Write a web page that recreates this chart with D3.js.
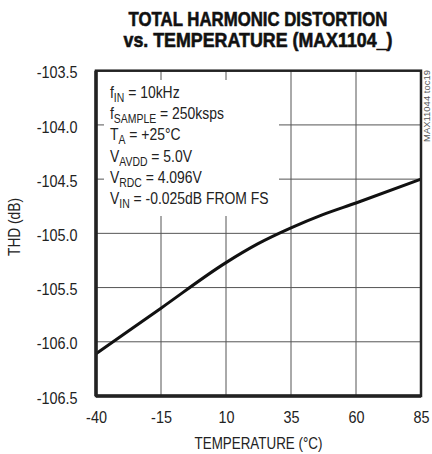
<!DOCTYPE html>
<html>
<head>
<meta charset="utf-8">
<script src="https://cdn.jsdelivr.net/npm/d3@7"></script>
<style>
  body { margin: 0; background: #fff; }
  svg { display: block; }
  text { font-family: "Liberation Sans", Arial, sans-serif; fill: #222; }
</style>
</head>
<body>
<script>
// 데이터: 온도(°C)별 THD(dB)
const temps = [-40, -15, 10, 22, 35, 47, 60, 85];
const thd = [-106.11, -105.69, -105.27, -105.1, -104.95, -104.83, -104.72, -104.5];

const xTicks = [-40, -15, 10, 35, 60, 85];
const yTicks = [-103.5, -104.0, -104.5, -105.0, -105.5, -106.0, -106.5];

const titleLines = ['TOTAL HARMONIC DISTORTION', 'vs. TEMPERATURE (MAX1104_)'];
const notes = [
    ['f', 'IN', ' = 10kHz'],
    ['f', 'SAMPLE', ' = 250ksps'],
    ['T', 'A', ' = +25°C'],
    ['V', 'AVDD', ' = 5.0V'],
    ['V', 'RDC', ' = 4.096V'],
    ['V', 'IN', ' = -0.025dB FROM FS']
];

// 좁은 글꼴 흉내: 텍스트를 가로로 축소
function squeeze(sel, base, targetWidth) {
    sel.each(function() {
        const w = this.getComputedTextLength();
        const s = targetWidth ? targetWidth / w : 1;
        d3.select(this).attr('transform', `${base} scale(${s},1)`);
    });
}

function renderChart() {
    const width = 432;
    const height = 454;
    const margin = {top: 70.7, right: 11, bottom: 58, left: 96};

    const x = d3.scaleLinear()
        .domain([-40, 85])
        .range([margin.left, width - margin.right]);

    const y = d3.scaleLinear()
        .domain([-106.5, -103.5])
        .range([height - margin.bottom, margin.top]);

    const svg = d3.select('body')
        .append('svg')
        .attr('width', width)
        .attr('height', height);

    // 제목
    const titleWidths = [259, 269];
    svg.selectAll('text.title')
        .data(titleLines)
        .enter()
        .append('text')
        .attr('class', 'title')
        .attr('text-anchor', 'middle')
        .attr('font-size', '20px')
        .attr('font-weight', 'bold')
        .style('fill', '#111')
        .style('stroke', '#111')
        .style('stroke-width', 0.6)
        .text(d => d)
        .each(function(d, i) {
            squeeze(d3.select(this), `translate(258, ${26 + i * 21})`, titleWidths[i]);
        });

    // 그리드
    const grid = svg.append('g');
    grid.selectAll('line.gx')
        .data(xTicks.slice(1, -1))
        .enter()
        .append('line')
        .attr('x1', d => x(d)).attr('x2', d => x(d))
        .attr('y1', y(-103.5)).attr('y2', y(-106.5))
        .attr('stroke', '#555')
        .attr('stroke-width', 1);

    grid.selectAll('line.gy')
        .data(yTicks.slice(1, -1))
        .enter()
        .append('line')
        .attr('x1', x(-40)).attr('x2', x(85))
        .attr('y1', d => y(d)).attr('y2', d => y(d))
        .attr('stroke', '#555')
        .attr('stroke-width', 1);

    // 주석 상자 (그리드 가림)
    svg.append('rect')
        .attr('x', 104)
        .attr('y', 80)
        .attr('width', 175)
        .attr('height', 136)
        .attr('fill', '#fff');

    const noteText = svg.append('g');
    notes.forEach((n, i) => {
        const t = noteText.append('text')
            .attr('font-size', '16px')
            .attr('transform', `translate(110, ${98 + i * 21.2}) scale(0.87,1)`);
        t.append('tspan').text(n[0]);
        t.append('tspan')
            .attr('font-size', '12px')
            .attr('dy', 4)
            .text(n[1]);
        t.append('tspan')
            .attr('dy', -4)
            .text(n[2]);
    });

    // 곡선
    const line = d3.line()
        .x(d => x(d[0]))
        .y(d => y(d[1]))
        .curve(d3.curveMonotoneX);

    svg.append('path')
        .datum(temps.map((t, i) => [t, thd[i]]))
        .attr('fill', 'none')
        .attr('stroke', '#111')
        .attr('stroke-width', 3)
        .attr('d', line);

    // 프레임
    const frame = svg.append('g').attr('stroke', '#222').attr('fill', 'none');
    frame.append('rect')
        .attr('x', x(-40))
        .attr('y', y(-103.5))
        .attr('width', x(85) - x(-40))
        .attr('height', y(-106.5) - y(-103.5))
        .attr('stroke-width', 2.5);
    frame.append('line')
        .attr('x1', x(-40)).attr('x2', x(-40))
        .attr('y1', y(-103.5)).attr('y2', y(-106.5))
        .attr('stroke-width', 3.5);
    frame.append('line')
        .attr('x1', x(-40)).attr('x2', x(85))
        .attr('y1', y(-106.5)).attr('y2', y(-106.5))
        .attr('stroke-width', 3.5);

    // 축 레이블
    const xAxis = d3.axisBottom(x).tickValues(xTicks).tickFormat(d => String(d)).tickSize(0).tickPadding(0);
    const gx = svg.append('g')
        .attr('transform', `translate(0, ${y(-106.5) + 27})`)
        .call(xAxis);
    gx.select('.domain').remove();
    gx.selectAll('text')
        .attr('font-size', '16px')
        .attr('font-family', null)
        .attr('dy', null)
        .attr('y', 0)
        .attr('transform', 'scale(0.9,1)');

    const yAxis = d3.axisLeft(y).tickValues(yTicks).tickFormat(d => d.toFixed(1)).tickSize(0).tickPadding(0);
    const gy = svg.append('g')
        .attr('transform', `translate(${x(-40) - 18.5}, 0)`)
        .call(yAxis);
    gy.select('.domain').remove();
    gy.selectAll('text')
        .attr('font-size', '16px')
        .attr('font-family', null)
        .attr('x', 0)
        .attr('dy', '0.45em')
        .attr('transform', 'scale(0.9,1)');

    // 축 제목
    svg.append('text')
        .attr('text-anchor', 'middle')
        .attr('font-size', '16px')
        .text('TEMPERATURE (°C)')
        .call(squeeze, 'translate(258.5, 449)', 128);

    svg.append('text')
        .attr('text-anchor', 'middle')
        .attr('font-size', '16px')
        .text('THD (dB)')
        .call(squeeze, 'translate(20, 227) rotate(-90)', 58);

    svg.append('text')
        .attr('font-size', '9px')
        .style('fill', '#555')
        .text('MAX11044 toc19')
        .call(squeeze, 'translate(430, 142) rotate(-90)', 72);
}

window.addEventListener('load', function() {
    requestAnimationFrame(renderChart);
});
</script>
</body>
</html>
